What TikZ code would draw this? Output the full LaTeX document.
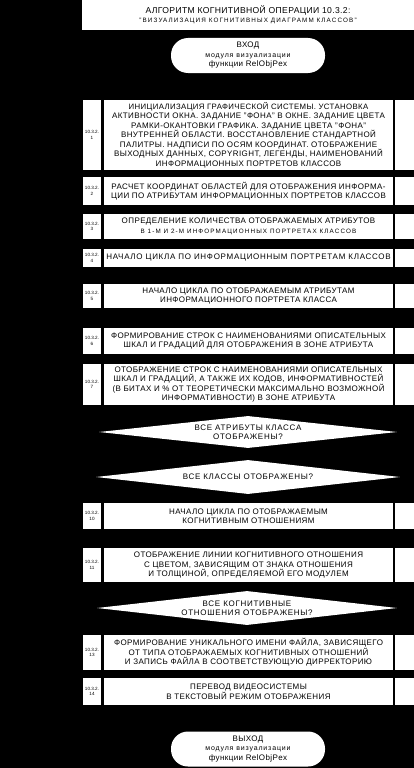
\documentclass[tikz,border=0pt]{standalone}
\usepackage{fontspec}
\setmainfont{Liberation Sans}[LetterSpace=5]
\usetikzlibrary{shapes.geometric}
\newcommand\smallsp{\fontsize{6.3}{8}\selectfont\addfontfeature{LetterSpace=18}}
\newcommand\blk[5]{%
  \node[mainbox, minimum height={(#3-#2)*1pt}] (#1) at (248.5,{(#2+#3)/2}) {#5};
  \node[numbox, minimum height={(#3-#2)*1pt}] (#1n) at (92,{(#2+#3)/2}) {10.3.2.\\#4};
  \node[sidebox, minimum height={(#3-#2)*1pt}] (#1r) at (404.5,{(#2+#3)/2}) {};
}
\begin{document}
\begin{tikzpicture}[x=1pt,y=-1pt,
  every node/.style={font=\fontsize{8}{9.5}\selectfont, text=black, inner sep=0pt, align=center},
  mainbox/.style={fill=white, draw=none, minimum width=289pt},
  numbox/.style={fill=white, draw=none, minimum width=18pt, font=\fontsize{4.6}{5.5}\selectfont\addfontfeature{LetterSpace=0}},
  sidebox/.style={fill=white, draw=none, minimum width=19pt},
  dia/.style={diamond, aspect=9, fill=white, draw=none, font=\fontsize{8}{9.5}\selectfont\addfontfeature{LetterSpace=9}},
  term/.style={fill=white, draw=none, rounded corners=17pt, minimum width=154pt, minimum height=35pt}]
\fill[black] (0,0) rectangle (414,768);
\useasboundingbox (0,0) rectangle (414,768);

\node[fill=white, minimum width=332pt, minimum height=30pt] (title) at (248,15)
  {{\fontsize{8.6}{10}\selectfont\addfontfeature{LetterSpace=4}АЛГОРИТМ КОГНИТИВНОЙ ОПЕРАЦИИ 10.3.2:}\\[-0.5pt]
   {\smallsp "ВИЗУАЛИЗАЦИЯ КОГНИТИВНЫХ ДИАГРАММ КЛАССОВ"}};

\node[term] (start) at (248,55.5)
  {ВХОД\\{\fontsize{7}{8}\selectfont\addfontfeature{LetterSpace=12}модуля визуализации}\\функции RelObjPex};

\blk{b1}{100}{170}{1}{\fontsize{7.8}{9}\selectfont
  ИНИЦИАЛИЗАЦИЯ ГРАФИЧЕСКОЙ СИСТЕМЫ. УСТАНОВКА\\
  АКТИВНОСТИ ОКНА. ЗАДАНИЕ "ФОНА" В ОКНЕ. ЗАДАНИЕ ЦВЕТА\\
  РАМКИ-ОКАНТОВКИ ГРАФИКА. ЗАДАНИЕ ЦВЕТА "ФОНА"\\
  ВНУТРЕННЕЙ ОБЛАСТИ. ВОССТАНОВЛЕНИЕ СТАНДАРТНОЙ\\
  ПАЛИТРЫ. НАДПИСИ ПО ОСЯМ КООРДИНАТ. ОТОБРАЖЕНИЕ\\
  ВЫХОДНЫХ ДАННЫХ, COPYRIGHT, ЛЕГЕНДЫ, НАИМЕНОВАНИЙ\\
  ИНФОРМАЦИОННЫХ ПОРТРЕТОВ КЛАССОВ}
\blk{b2}{177}{205}{2}{РАСЧЕТ КООРДИНАТ ОБЛАСТЕЙ ДЛЯ ОТОБРАЖЕНИЯ ИНФОРМА-\\
  ЦИИ ПО АТРИБУТАМ ИНФОРМАЦИОННЫХ ПОРТРЕТОВ КЛАССОВ}
\blk{b3}{214}{239}{3}{ОПРЕДЕЛЕНИЕ КОЛИЧЕСТВА ОТОБРАЖАЕМЫХ АТРИБУТОВ\\
  {\smallsp В 1-М И 2-М ИНФОРМАЦИОННЫХ ПОРТРЕТАХ КЛАССОВ}}
\blk{b4}{249}{267}{4}{\addfontfeature{LetterSpace=9}НАЧАЛО ЦИКЛА ПО ИНФОРМАЦИОННЫМ ПОРТРЕТАМ КЛАССОВ}
\blk{b5}{284}{308}{5}{НАЧАЛО ЦИКЛА ПО ОТОБРАЖАЕМЫМ АТРИБУТАМ\\
  ИНФОРМАЦИОННОГО ПОРТРЕТА КЛАССА}
\blk{b6}{328}{354}{6}{ФОРМИРОВАНИЕ СТРОК С НАИМЕНОВАНИЯМИ ОПИСАТЕЛЬНЫХ\\
  ШКАЛ И ГРАДАЦИЙ ДЛЯ ОТОБРАЖЕНИЯ В ЗОНЕ АТРИБУТА}
\blk{b7}{364}{405}{7}{ОТОБРАЖЕНИЕ СТРОК С НАИМЕНОВАНИЯМИ ОПИСАТЕЛЬНЫХ\\
  ШКАЛ И ГРАДАЦИЙ, А ТАКЖЕ ИХ КОДОВ, ИНФОРМАТИВНОСТЕЙ\\
  (В БИТАХ И \% ОТ ТЕОРЕТИЧЕСКИ МАКСИМАЛЬНО ВОЗМОЖНОЙ\\
  ИНФОРМАТИВНОСТИ) В ЗОНЕ АТРИБУТА}

\node[dia, minimum width=298pt, minimum height=32pt] (d1) at (248,432)
  {ВСЕ АТРИБУТЫ КЛАССА\\ОТОБРАЖЕНЫ?};
\node[dia, minimum width=304pt, minimum height=34pt] (d2) at (248,477)
  {ВСЕ КЛАССЫ ОТОБРАЖЕНЫ?};

\blk{b10}{503}{529}{10}{НАЧАЛО ЦИКЛА ПО ОТОБРАЖАЕМЫМ\\
  КОГНИТИВНЫМ ОТНОШЕНИЯМ}
\blk{b11}{548}{582}{11}{ОТОБРАЖЕНИЕ ЛИНИИ КОГНИТИВНОГО ОТНОШЕНИЯ\\
  С ЦВЕТОМ, ЗАВИСЯЩИМ ОТ ЗНАКА ОТНОШЕНИЯ\\
  И ТОЛЩИНОЙ, ОПРЕДЕЛЯЕМОЙ ЕГО МОДУЛЕМ}

\node[dia, minimum width=300pt, minimum height=34pt] (d3) at (247,608)
  {ВСЕ КОГНИТИВНЫЕ\\ОТНОШЕНИЯ ОТОБРАЖЕНЫ?};

\blk{b13}{635}{670}{13}{ФОРМИРОВАНИЕ УНИКАЛЬНОГО ИМЕНИ ФАЙЛА, ЗАВИСЯЩЕГО\\
  ОТ ТИПА ОТОБРАЖАЕМЫХ КОГНИТИВНЫХ ОТНОШЕНИЙ\\
  И ЗАПИСЬ ФАЙЛА В СООТВЕТСТВУЮЩУЮ ДИРРЕКТОРИЮ}
\blk{b14}{678}{705}{14}{ПЕРЕВОД ВИДЕОСИСТЕМЫ\\
  В ТЕКСТОВЫЙ РЕЖИМ ОТОБРАЖЕНИЯ}

\node[term] (stop) at (248,749)
  {ВЫХОД\\{\fontsize{7}{8}\selectfont\addfontfeature{LetterSpace=12}модуля визуализации}\\функции RelObjPex};
\end{tikzpicture}
\end{document}
